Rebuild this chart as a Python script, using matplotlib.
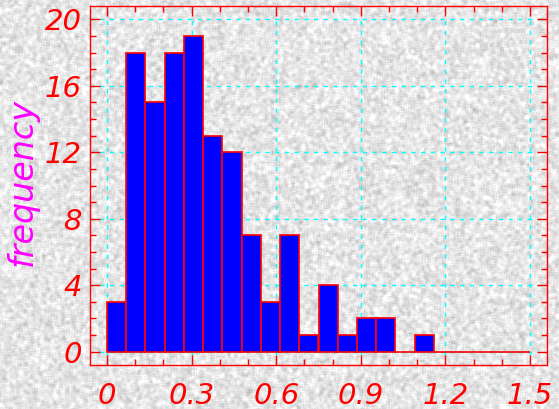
import numpy as np
from matplotlib import pyplot as plt

# histogram data: 22 equal bins over [0, 1.5]
bin_lo, bin_hi, n_bins = 0.0, 1.5, 22
counts = [3, 18, 15, 18, 19, 13, 12, 7, 3, 7, 1, 4, 1, 2, 2, 0, 1, 0, 0, 0, 0, 0]
x_ticks = [0, 0.3, 0.6, 0.9, 1.2, 1.5]
x_labels = ['0', '0.3', '0.6', '0.9', '1.2', '1.5']
y_ticks = [0, 4, 8, 12, 16, 20]

W, H, DPI = 559, 409, 100
fig = plt.figure(figsize=(W / DPI, H / DPI), dpi=DPI)

# grainy paper-like backdrop (decoration only)
rng = np.random.default_rng(3)
tex = rng.normal(0, 1, (H + 8, W + 8))
k = np.ones(4) / 4
tex = np.apply_along_axis(lambda r: np.convolve(r, k, 'same'), 1, tex)
tex = np.apply_along_axis(lambda c: np.convolve(c, k, 'same'), 0, tex)
tex = tex[4:-4, 4:-4]
tex = np.clip(0.90 + 0.045 * tex / tex.std(), 0.7, 1.0)
fig.figimage(tex, cmap='gray', vmin=0, vmax=1, zorder=-10)

ax = fig.add_axes([90 / W, 1 - 365 / H, (547 - 90) / W, (365 - 6) / H])
ax.set_facecolor('none')

width = (bin_hi - bin_lo) / n_bins
edges = bin_lo + width * np.arange(n_bins)
ax.bar(edges, counts, width=width, align='edge', color='blue',
       edgecolor='red', linewidth=1.2, zorder=3)

ax.set_xlim(-0.06, 1.56)
ax.set_ylim(-0.8, 20.8)

ax.set_xticks(x_ticks)
ax.set_xticklabels(x_labels)
ax.set_yticks(y_ticks)
ax.set_xticks(np.arange(0, 1.55, 0.1), minor=True)
ax.set_yticks(np.arange(0, 21, 1), minor=True)

ax.grid(True, which='major', color='cyan', linestyle=(0, (3, 4)), linewidth=1.0, zorder=1)
ax.set_axisbelow(True)

for s in ax.spines.values():
    s.set_color('red')
    s.set_linewidth(1.0)

ax.tick_params(which='both', direction='in', colors='red', top=True, right=True)
ax.tick_params(which='major', length=7, width=1)
ax.tick_params(which='minor', length=4, width=1)
ax.tick_params(axis='x', which='major', pad=12)
ax.tick_params(axis='y', which='major', pad=6)

for lab in ax.get_xticklabels() + ax.get_yticklabels():
    lab.set_fontsize(21)
    lab.set_fontstyle('italic')
    lab.set_color('red')

ax.set_ylabel('frequency', fontsize=24, fontstyle='italic', color='magenta')
ax.yaxis.set_label_coords(-0.113, 0.51)

fig.savefig('out.png', dpi=DPI)
